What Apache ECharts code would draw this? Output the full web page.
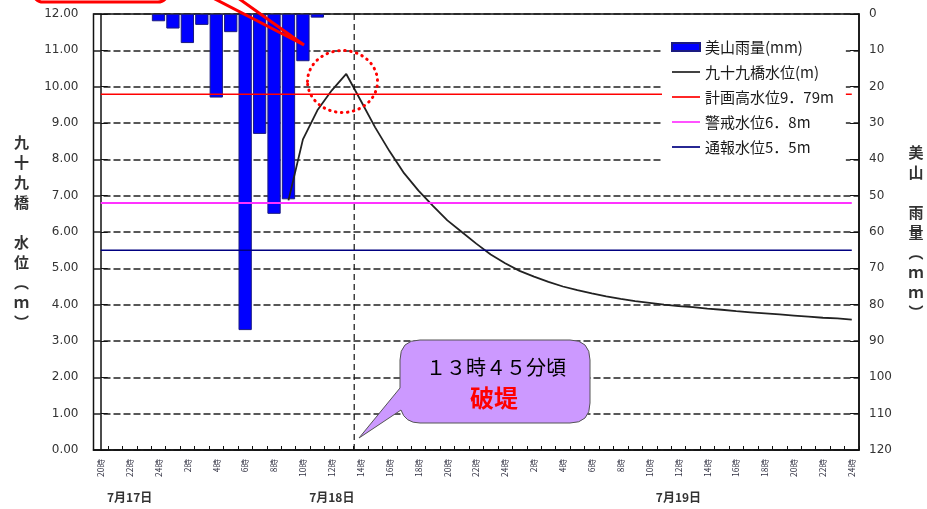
<!DOCTYPE html>
<html>
<head>
<meta charset="utf-8">
<script src="https://cdn.jsdelivr.net/npm/echarts@6/dist/echarts.min.js"></script>
<style>
html,body{margin:0;padding:0;background:#fff;}
#c{width:927px;height:509px;}
</style>
</head>
<body>
<div id="c"></div>
<script>
// ---- data ----
const hourLabels = [
  '20時','21時','22時','23時','24時',
  '1時','2時','3時','4時','5時','6時','7時','8時','9時','10時','11時','12時',
  '13時','14時','15時','16時','17時','18時','19時','20時','21時','22時','23時','24時',
  '1時','2時','3時','4時','5時','6時','7時','8時','9時','10時','11時','12時',
  '13時','14時','15時','16時','17時','18時','19時','20時','21時','22時','23時','24時'
];
const dateLabels = ['7月17日', '7月18日', '7月19日'];
const dateLabelIndex = [2, 16, 40];

// 美山雨量 (mm) per hour
const rainfall = [
  null, null, null, null, 2, 4, 8, 3, 23, 5, 87, 33, 55, 51, 13, 1,
  null, null, null, null, null, null, null, null, null, null, null, null, null, null,
  null, null, null, null, null, null, null, null, null, null, null, null, null, null,
  null, null, null, null, null, null, null, null, null
];
// 九十九橋水位 (m)
const waterLevel = [
  null, null, null, null, null, null, null, null, null, null, null, null, null,
  6.87, 8.55, 9.35, 9.90, 10.35, 9.62, 8.88, 8.22, 7.62, 7.14, 6.72, 6.32, 6.00, 5.68,
  5.38, 5.14, 4.93, 4.77, 4.63, 4.50, 4.40, 4.31, 4.23, 4.16, 4.10, 4.05, 4.00, 3.96,
  3.93, 3.89, 3.86, 3.82, 3.79, 3.76, 3.73, 3.70, 3.67, 3.64, 3.62, 3.59
];
const planHighLevel = 9.79;
const warningLevel = 6.8;
const notifyLevel = 5.5;
const breachPos = 17.55; // 13時45分頃 on the hour index scale

const names = ['美山雨量(mm)', '九十九橋水位(m)', '計画高水位9．79m', '警戒水位6．8m', '通報水位5．5m'];

const CJK = '"Noto Sans CJK JP", "Noto Sans", sans-serif';
const NUM = '"DejaVu Sans", sans-serif';

// speech-bubble annotation shape
const Callout = echarts.graphic.extendShape({
  shape: {x: 0, y: 0},
  buildPath: function (ctx) {
    ctx.moveTo(400, 388);
    ctx.lineTo(400, 360);
    ctx.quadraticCurveTo(400, 340, 420, 340);
    ctx.lineTo(570, 340);
    ctx.quadraticCurveTo(590, 340, 590, 360);
    ctx.lineTo(590, 403);
    ctx.quadraticCurveTo(590, 423, 570, 423);
    ctx.lineTo(420, 423);
    ctx.quadraticCurveTo(405, 423, 401, 410);
    ctx.lineTo(359, 438);
    ctx.closePath();
  }
});
echarts.graphic.registerShape('callout', Callout);

const chart = echarts.init(document.getElementById('c'), null, {renderer: 'canvas'});

const flat = v => hourLabels.map(() => v);
const lineIcon = 'path://M0 0 H28 V1.7 H0 Z';

chart.setOption({
  animation: false,
  backgroundColor: '#fff',
  grid: {left: 93.5, right: 68, top: 14, bottom: 59, show: true, borderColor: '#111', borderWidth: 1.5},
  legend: {
    data: [
      {name: names[0], icon: 'rect'},
      {name: names[1], icon: lineIcon},
      {name: names[2], icon: lineIcon},
      {name: names[3], icon: lineIcon},
      {name: names[4], icon: lineIcon}
    ],
    orient: 'vertical',
    left: 662, top: 33,
    itemWidth: 28, itemHeight: 8, itemGap: 9,
    padding: [6, 12, 8, 9],
    backgroundColor: '#fff',
    textStyle: {fontFamily: CJK, fontSize: 15, color: '#1a1a1a', lineHeight: 16}
  },
  xAxis: [
    {
      type: 'category', data: hourLabels, boundaryGap: true, position: 'bottom',
      axisLine: {show: true, lineStyle: {color: '#111', width: 1.5}},
      axisTick: {show: true, inside: true, interval: 0, length: 4, lineStyle: {color: '#111'}},
      axisLabel: {interval: 1, rotate: 90, fontSize: 8.5, margin: 9, color: '#334', fontFamily: CJK},
      splitLine: {show: false}
    },
    {
      type: 'category', data: hourLabels, boundaryGap: true, position: 'bottom',
      axisLine: {show: false}, axisTick: {show: false}, splitLine: {show: false},
      axisLabel: {
        interval: 0, margin: 41, fontSize: 12, fontWeight: 'bold', color: '#333', fontFamily: CJK,
        formatter: (v, idx) => { const k = dateLabelIndex.indexOf(idx); return k >= 0 ? dateLabels[k] : ''; }
      }
    },
    {type: 'value', min: -0.5, max: 52.5, show: false}
  ],
  yAxis: [
    {
      type: 'value', min: 0, max: 12, interval: 1, position: 'left',
      axisLine: {show: true, lineStyle: {color: '#111', width: 1.5}},
      axisTick: {show: true, inside: true, length: 7, lineStyle: {color: '#111'}},
      axisLabel: {formatter: v => v.toFixed(2), fontSize: 12, margin: 15, color: '#333', fontFamily: NUM},
      splitLine: {show: true, lineStyle: {color: '#222', width: 1.5, type: [7, 3]}}
    },
    {
      type: 'value', min: 0, max: 120, interval: 10, inverse: true, position: 'right',
      axisLine: {show: true, lineStyle: {color: '#111', width: 1.5}},
      axisTick: {show: true, inside: true, length: 9, lineStyle: {color: '#111'}},
      axisLabel: {fontSize: 12, margin: 10, color: '#333', fontFamily: NUM},
      splitLine: {show: false}
    }
  ],
  series: [
    {
      name: names[0], type: 'bar', xAxisIndex: 0, yAxisIndex: 1, data: rainfall,
      barCategoryGap: '8%',
      itemStyle: {color: '#0000ff', borderColor: '#1a1a80', borderWidth: 1}
    },
    {
      name: names[1], type: 'line', xAxisIndex: 0, yAxisIndex: 0, data: waterLevel,
      symbol: 'none', lineStyle: {color: '#222', width: 1.8}, itemStyle: {color: '#222'}
    },
    {
      name: names[2], type: 'line', xAxisIndex: 0, yAxisIndex: 0, data: flat(planHighLevel),
      symbol: 'none', lineStyle: {color: '#ff0000', width: 1.5}, itemStyle: {color: '#ff0000'}
    },
    {
      name: names[3], type: 'line', xAxisIndex: 0, yAxisIndex: 0, data: flat(warningLevel),
      symbol: 'none', lineStyle: {color: '#ff33ff', width: 2}, itemStyle: {color: '#ff33ff'}
    },
    {
      name: names[4], type: 'line', xAxisIndex: 0, yAxisIndex: 0, data: flat(notifyLevel),
      symbol: 'none', lineStyle: {color: '#000080', width: 1.5}, itemStyle: {color: '#000080'}
    },
    {
      name: 'breach', type: 'line', xAxisIndex: 2, yAxisIndex: 0,
      data: [[breachPos, 0], [breachPos, 12]], symbol: 'none', silent: true,
      lineStyle: {color: '#111', width: 1.2, type: [6, 4]}
    }
  ],
  graphic: [
    {type: 'text', x: 21.5, y: 232, z: 100,
     style: {text: '九\n十\n九\n橋\n\n水\n位\n︵\nｍ\n︶', font: 'bold 15px ' + CJK, lineHeight: 20,
             fill: '#333', textAlign: 'center', textVerticalAlign: 'middle'}},
    {type: 'text', x: 916, y: 232, z: 100,
     style: {text: '美\n山\n\n雨\n量\n︵\nｍ\nｍ\n︶', font: 'bold 15px ' + CJK, lineHeight: 20,
             fill: '#333', textAlign: 'center', textVerticalAlign: 'middle'}},
    {type: 'callout', z: 100, shape: {x: 0, y: 0},
     style: {fill: '#cc99ff', stroke: '#555', lineWidth: 1}},
    {type: 'text', x: 496, y: 367, z: 101,
     style: {text: '１３時４５分頃', font: '20px ' + CJK, fill: '#000', textAlign: 'center', textVerticalAlign: 'middle'}},
    {type: 'text', x: 494, y: 398, z: 101,
     style: {text: '破堤', font: 'bold 24px ' + CJK, fill: '#ff0000', textAlign: 'center', textVerticalAlign: 'middle'}},
    {type: 'ellipse', z: 100, shape: {cx: 342.5, cy: 81.5, rx: 35, ry: 31},
     style: {fill: null, stroke: '#ff0000', lineWidth: 3, lineDash: [0.5, 5.5], lineCap: 'round'}},
    {type: 'rect', z: 100, shape: {x: 33, y: -40, width: 135, height: 42, r: 10},
     style: {fill: null, stroke: '#ff0000', lineWidth: 3}},
    {type: 'polyline', z: 100, shape: {points: [[213, -2], [304, 45], [238, -2]]},
     style: {fill: null, stroke: '#ff0000', lineWidth: 3}}
  ]
});
</script>
</body>
</html>
